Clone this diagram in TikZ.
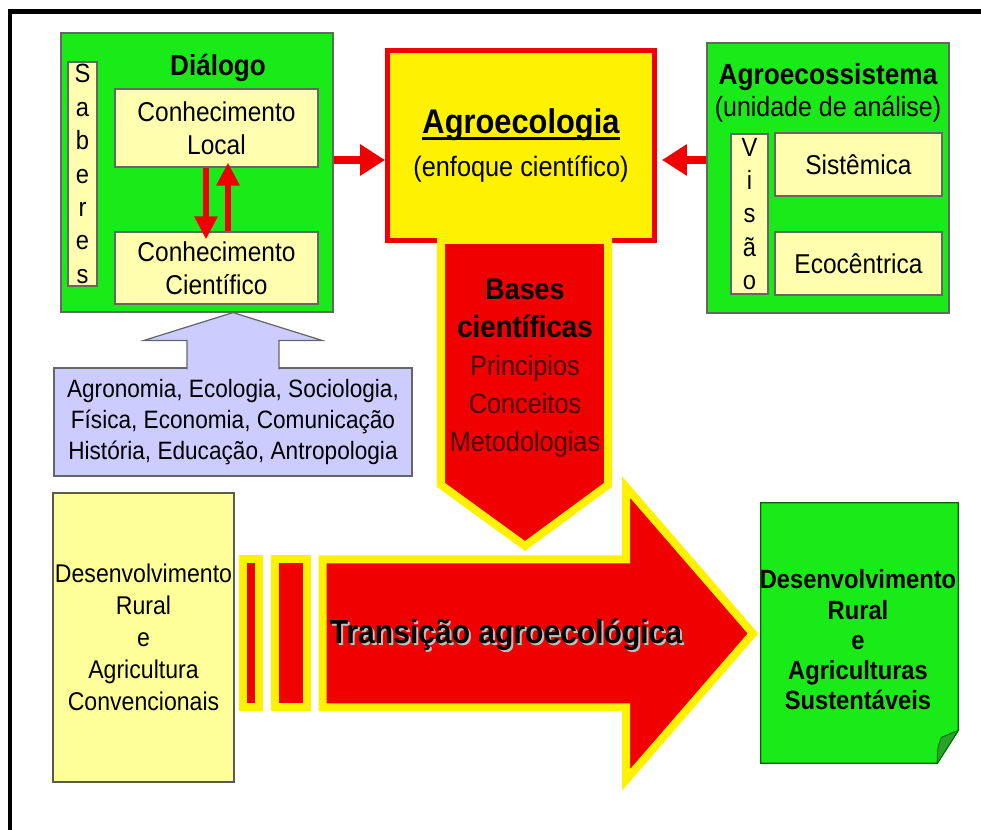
\documentclass[tikz,border=0pt]{standalone}
\usepackage{fontspec}
\setmainfont{Liberation Sans}[FakeStretch=0.9]
\usetikzlibrary{arrows.meta}
\definecolor{boxgreen}{RGB}{25,235,25}
\definecolor{foldgreen}{RGB}{40,165,40}
\definecolor{paleyellow}{RGB}{255,255,175}
\definecolor{convyellow}{RGB}{255,255,153}
\definecolor{lavender}{RGB}{204,204,255}
\definecolor{arrowred}{RGB}{240,0,0}
\definecolor{darkred}{RGB}{70,0,0}
\newcommand{\thickul}[1]{\setbox0\hbox{#1}\rlap{\raisebox{-3.2pt}{\rule{\wd0}{1.3pt}}}\box0}
\begin{document}
\begin{tikzpicture}[x=0.02cm,y=-0.02cm,
  greenbox/.style={draw=black!60,fill=boxgreen,line width=0.7pt},
  palebox/.style={draw=black!60,fill=paleyellow,line width=0.7pt,align=center,inner sep=0pt,font=\fontsize{15.5}{19}\selectfont},
  letterbox/.style={palebox,text width=0.5cm,font=\fontsize{15}{19}\selectfont},
  redarrow/.style={draw=arrowred,line width=0.16cm,-{Triangle[width=0.6cm,length=0.5cm]}},
  thinred/.style={draw=arrowred,line width=0.13cm,-{Triangle[width=0.44cm,length=0.46cm]}},
  transarrow/.style={fill=arrowred,draw=yellow,line width=0.16cm,line join=miter}]
\useasboundingbox (0,0) rectangle (981,830);
\draw[line width=0.1cm] (10,830) -- (10,12) -- (981,12);

\node[greenbox,minimum width=5.44cm,minimum height=5.58cm] (dialogo) at (197,172.5) {};
\node[font=\bfseries\fontsize{16.5}{20}\selectfont] (dialtitle) at (218,68) {Diálogo};
\node[letterbox,minimum width=0.58cm,minimum height=4.48cm] (saberes) at (82.5,174) {S\\a\\b\\e\\r\\e\\s};
\node[palebox,minimum width=4.06cm,minimum height=1.56cm] (local) at (216.5,128) {Conhecimento\\Local};
\node[palebox,minimum width=4.06cm,minimum height=1.44cm] (cientif) at (216.5,268) {Conhecimento\\Científico};
\draw[thinred,shorten >=-0.16cm] ([xshift=-0.21cm]local.south) -- ([xshift=-0.21cm]cientif.north);
\draw[thinred,shorten >=-0.1cm] ([xshift=0.23cm]cientif.north) -- ([xshift=0.23cm]local.south);

\node[draw=arrowred,fill=yellow,line width=0.1cm,minimum width=5.34cm,minimum height=3.8cm,align=center,font=\fontsize{16}{24}\selectfont] (agro) at (521,145.5) {{\bfseries\fontsize{19.5}{24}\selectfont\thickul{Agroecologia}}\\(enfoque científico)};

\node[greenbox,minimum width=4.84cm,minimum height=5.4cm] (agrosis) at (828,178) {};
\node[align=center,font=\fontsize{15.8}{18.5}\selectfont] (agrotitle) at (828,93) {{\bfseries\fontsize{16.6}{18.5}\selectfont Agroecossistema}\\(unidade de análise)};
\node[letterbox,minimum width=0.74cm,minimum height=3.2cm] (visao) at (749.5,214) {V\\i\\s\\ã\\o};
\node[palebox,minimum width=3.34cm,minimum height=1.26cm] (sistem) at (858.5,164.5) {Sistêmica};
\node[palebox,minimum width=3.34cm,minimum height=1.26cm] (ecoc) at (858.5,263.5) {Ecocêntrica};

\coordinate (mid) at (0,160);
\draw[redarrow] (dialogo.east |- mid) -- (agro.west |- mid);
\draw[redarrow,shorten >=0.1cm] (agrosis.west |- mid) -- (agro.east |- mid);

\node[draw=black!60,fill=lavender,line width=0.7pt,minimum width=7.16cm,minimum height=2.16cm,align=center,font=\fontsize{14.3}{17.6}\selectfont] (discip) at (233,422) {Agronomia, Ecologia, Sociologia,\\Física, Economia, Comunicação\\História, Educação, Antropologia};
\filldraw[draw=black!60,fill=lavender,line width=0.7pt] ([xshift=-0.92cm,yshift=-0.04cm]discip.north) -- ++(0cm,0.58cm) -- ++(-0.86cm,0cm) -- (discip.north |- dialogo.south) -- ([xshift=1.78cm,yshift=0.54cm]discip.north) -- ++(-0.86cm,0cm) -- ++(0cm,-0.58cm);

\filldraw[transarrow] (441,240) -- (608,240) -- (608,485) -- (525,546) -- (441,485) -- cycle;
\node[align=center,font=\fontsize{16}{21.6}\selectfont,text=darkred] (bases) at (525,368) {{\bfseries\color{black}\fontsize{17}{21.6}\selectfont Bases}\\{\bfseries\color{black}\fontsize{17.5}{21.6}\selectfont científicas}\\Principios\\Conceitos\\Metodologias};

\node[draw=black!65,fill=convyellow,line width=0.7pt,inner sep=1pt,minimum width=3.62cm,minimum height=5.78cm,align=center,font=\fontsize{14.6}{18.2}\selectfont] (conv) at (143.5,637.5) {Desenvolvimento\\Rural\\e\\Agricultura\\Convencionais};

\draw[transarrow] (243,559.5) rectangle (259,707.5);
\draw[transarrow] (275,559.5) rectangle (307,707.5);
\filldraw[transarrow] (322.5,559.5) -- (626,559.5) -- (626,487) -- (753,633.5) -- (626,780) -- (626,707.5) -- (322.5,707.5) -- cycle;
\node[font=\bfseries\fontsize{19}{23}\selectfont,text=white!75!black] (transshadow) at (508,637) {Transição agroecológica};
\node[font=\bfseries\fontsize{19}{23}\selectfont] (trans) at (506,635) {Transição agroecológica};

\node[minimum width=3.94cm,minimum height=5.2cm] (sust) at (859.5,633) {};
\filldraw[draw=black!60!green,fill=boxgreen,line width=0.7pt] (sust.north west) -- (sust.north east) -- ([yshift=0.66cm]sust.south east) -- ([xshift=-0.42cm]sust.south east) -- (sust.south west) -- cycle;
\filldraw[draw=black!60!green,fill=foldgreen,line width=0.5pt] ([xshift=-0.42cm]sust.south east) -- ([yshift=0.66cm]sust.south east) -- ([xshift=-0.34cm,yshift=0.52cm]sust.south east) .. controls ([xshift=-0.42cm,yshift=0.3cm]sust.south east) .. ([xshift=-0.42cm]sust.south east) -- cycle;
\node[align=center,inner sep=0pt,font=\bfseries\fontsize{15}{17.2}\selectfont] (susttext) at (858,640) {Desenvolvimento\\Rural\\e\\Agriculturas\\Sustentáveis};
\end{tikzpicture}
\end{document}
